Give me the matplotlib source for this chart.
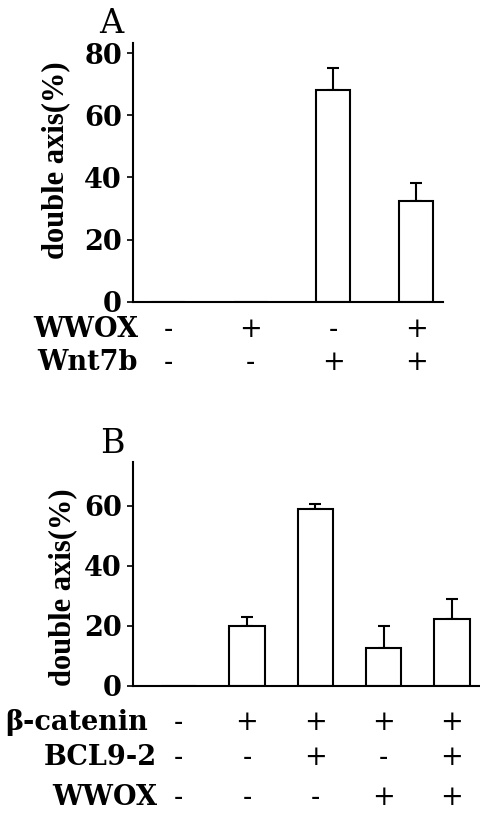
import numpy as np
import matplotlib
matplotlib.use("Agg")
import matplotlib.pyplot as plt
import matplotlib.transforms as mtransforms

# ==========================================================
# data
a_values = [0, 0, 68.2, 32.3]
a_errors = [0, 0, 7.2, 5.9]
a_rows = ["WWOX", "Wnt7b"]
a_signs = [["-", "+", "-", "+"],
           ["-", "-", "+", "+"]]
a_yticks = [0, 20, 40, 60, 80]

b_values = [0, 20.0, 59.0, 12.7, 22.3]
b_errors = [0, 3.0, 1.7, 7.3, 6.7]
b_rows = ["β-catenin", "BCL9-2", "WWOX"]
b_signs = [["-", "+", "+", "+", "+"],
           ["-", "-", "+", "-", "+"],
           ["-", "-", "-", "+", "+"]]
b_yticks = [0, 20, 40, 60]

ylabel = "double axis(%)"

W, H = 480, 816
tick_font = dict(family="DejaVu Serif", weight="bold", size=19.5)
sign_font = dict(family="DejaVu Serif", weight="normal", size=19.5)
label_font = dict(family="Liberation Serif", weight="bold", size=22)


def px(x, y):
    # pixel (from top-left) -> figure fraction
    return x / W, 1 - y / H


def draw_panel(fig, rect, values, errors, width, xlim, ylim, yticks):
    ax = fig.add_axes(rect)
    x = np.arange(len(values))
    ax.bar(x, values, width=width, color="white", edgecolor="black",
           linewidth=1.5, zorder=2)
    # only the upper half of the error bar is drawn
    show = np.array(errors) > 0
    up = np.array(errors)[show]
    ax.errorbar(x[show], np.array(values)[show],
                yerr=[np.zeros(len(up)), up],
                fmt="none", ecolor="black", elinewidth=1.5, capsize=4.5,
                capthick=1.5, zorder=1)
    ax.set_xlim(*xlim)
    ax.set_ylim(*ylim)
    ax.set_yticks(yticks)
    ax.set_yticklabels([str(t) for t in yticks], fontdict=tick_font)
    ax.set_xticks([])
    for s in ["top", "right"]:
        ax.spines[s].set_visible(False)
    for s in ["left", "bottom"]:
        ax.spines[s].set_linewidth(1.5)
    ax.tick_params(axis="y", length=4, width=1.2, pad=4)
    ax.patch.set_alpha(0)
    return ax


def draw_rows(fig, ax, rows, signs, name_right, baselines):
    trans = mtransforms.blended_transform_factory(ax.transData, fig.transFigure)
    for r, name in enumerate(rows):
        fy = 1 - baselines[r] / H
        fig.text(name_right[r] / W, fy, name, ha="right", va="baseline", **tick_font)
        for i, s in enumerate(signs[r]):
            ax.text(i, fy, s, transform=trans, ha="center", va="baseline",
                    clip_on=False, **sign_font)


fig = plt.figure(figsize=(W / 100, H / 100), dpi=100)

# ---------------- panel A
a_x0, a_dx = 168.0, 82.7
a_xlim = ((133 - a_x0) / a_dx, (443 - a_x0) / a_dx)
a_top = (301.7 - 43) / 3.105
rect_a = [133 / W, 1 - 301.7 / H, (443 - 133) / W, (301.7 - 43) / H]
ax_a = draw_panel(fig, rect_a, a_values, a_errors, 0.41, a_xlim, (0, a_top), a_yticks)
ax_a.set_ylabel(ylabel, fontdict=label_font)
ax_a.yaxis.set_label_coords((70 - 133) / 310, (301.7 - 160) / 258.7)
draw_rows(fig, ax_a, a_rows, a_signs, [138, 138], [337, 370])
fig.text(*px(111, 33), "A", ha="center", va="baseline",
         family="DejaVu Serif", size=24)

# ---------------- panel B
b_x0, b_dx = 178.7, 68.3
b_xlim = ((133 - b_x0) / b_dx, 4.6)
b_right = b_x0 + 4.6 * b_dx
b_top = (685.7 - 462) / 2.995
rect_b = [133 / W, 1 - 685.7 / H, (b_right - 133) / W, (685.7 - 462) / H]
ax_b = draw_panel(fig, rect_b, b_values, b_errors, 0.52, b_xlim, (0, b_top), b_yticks)
ax_b.set_ylabel(ylabel, fontdict=label_font)
ax_b.yaxis.set_label_coords((77 - 133) / (b_right - 133), (685.7 - 587) / 223.7)
draw_rows(fig, ax_b, b_rows, b_signs, [148, 157, 157], [730, 765, 805])
fig.text(*px(112, 453), "B", ha="center", va="baseline",
         family="DejaVu Serif", size=24)

fig.savefig("out.png", dpi=100)
